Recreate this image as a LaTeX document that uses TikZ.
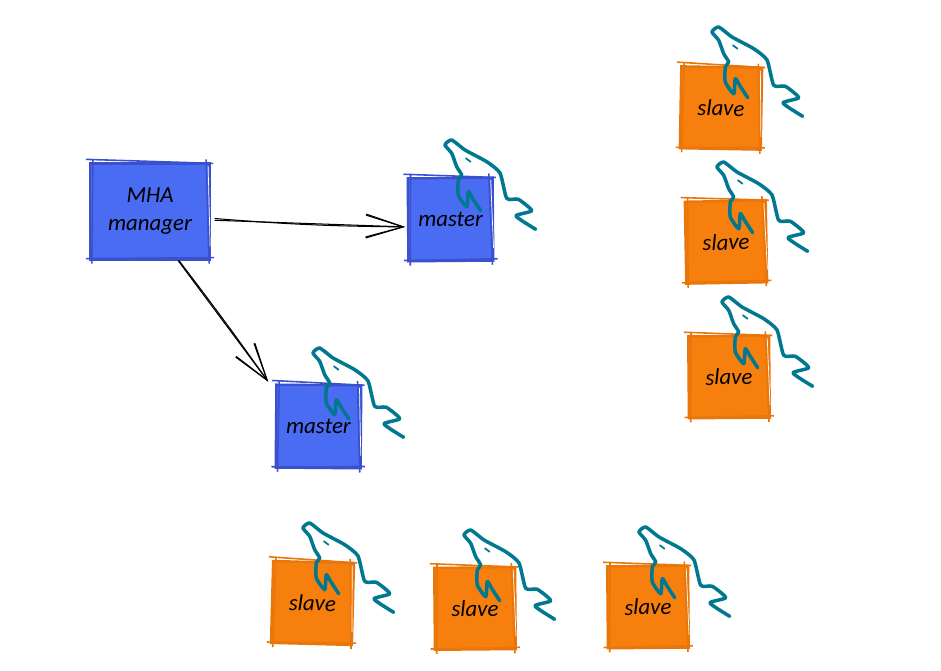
\documentclass[tikz,border=0pt]{standalone}
\usepackage{fontspec}
\setmainfont{Carlito}
\usetikzlibrary{arrows.meta}
\usetikzlibrary{calc}

\definecolor{bluefill}{HTML}{4A6CF2}
\definecolor{blueline}{HTML}{3B50CC}
\definecolor{orangefill}{HTML}{F77F0E}
\definecolor{orangeline}{HTML}{E8760A}
\definecolor{dolphincol}{HTML}{00788F}

\begin{document}
\begin{tikzpicture}[x=0.02cm, y=-0.02cm,
    main/.style = {draw, line width=1.3pt, inner sep=0pt, align=center, font=\fontsize{13}{16}\selectfont\itshape},
    manager/.style = {main, fill=bluefill, draw=blueline, minimum width=2.4cm, minimum height=1.92cm},
    master/.style = {main, fill=bluefill, draw=blueline, minimum width=1.7cm, minimum height=1.66cm},
    slave/.style = {main, fill=orangefill, draw=orangeline, minimum width=1.62cm, minimum height=1.64cm},
    flow/.style = {draw=black, line width=0.6pt, -{Straight Barb[length=7.5mm, width=5mm, angle'=34]}},
    pics/dolphin/.style = {code={
        \draw [dolphincol, line width=2pt, line cap=round, line join=round]
            plot [smooth, tension=0.35] coordinates {(90.7,84.3) (71,71) (86.7,65.7) (73.3,54.3) (61.7,53.3) (55,28) (41.7,16.7)
            (20,5) (6.7,-5) (0,0) (6.7,8.3) (11.7,21.7) (16.7,30) (13.3,35) (13.3,50)
            (21.7,61.7) (23.3,46.7) (28,54) (35.7,65.7)};
        \draw [dolphincol, line width=1pt, line cap=round] (21,13.3) -- (25.5,16.7);
    }}]
    \useasboundingbox (0,0) rectangle (941,671);

    \node [manager] (manager) at (150,211.5) {MHA\\manager};
    \node [master, rotate=0.5] (master1) at (450.5,219.5) {master};
    \node [master, rotate=-0.5] (master2) at (318.5,426.5) {master};
    \node [slave, rotate=-1] (slave1) at (721,108) {slave};
    \node [slave, rotate=1] (slave2) at (726,242) {slave};
    \node [slave, rotate=0.5] (slave3) at (729,377) {slave};
    \node [slave, rotate=-1.5] (slave4) at (312.5,603) {slave};
    \node [slave, rotate=0.5] (slave5) at (475,608.5) {slave};
    \node [slave, rotate=0.5] (slave6) at (648,607) {slave};

    % second pencil stroke round each box
    \foreach \name/\col in {manager/blueline, master1/blueline, master2/blueline, slave1/orangeline, slave2/orangeline,
        slave3/orangeline, slave4/orangeline, slave5/orangeline, slave6/orangeline} {
        \draw [\col, line width=0.9pt]
            ($(\name.north west)+(-3,-3)$) -- ($(\name.north east)+(2,1)$)
            ($(\name.north east)+(-5,-3)$) -- ($(\name.south east)+(-2,3)$)
            ($(\name.south east)+(3,-3)$) -- ($(\name.south west)+(-3,-2)$)
            ($(\name.south west)+(3,3)$) -- ($(\name.north west)+(4,-3)$);
        \draw [white, line width=0.4pt] ($(\name.north east)+(-3,4)$) -- ($(\name.south east)+(-1,-14)$);
    }

    \pic at (445,145) {dolphin};
    \pic at (313,353) {dolphin};
    \pic at (712,32) {dolphin};
    \pic at (717,167) {dolphin};
    \pic at (722,302) {dolphin};
    \pic at (303,528) {dolphin};
    \pic at (464,535) {dolphin};
    \pic at (639,532) {dolphin};

    \draw [flow] ([xshift=2pt, yshift=-5pt]manager.east) to ([xshift=-1pt, yshift=-4pt]master1.west);
    \draw [flow] ([xshift=2pt, yshift=-4pt]manager.east) to [bend right=2] ([xshift=-1pt, yshift=-4pt]master1.west);
    \draw [flow] ([xshift=16pt]manager.south) to ([xshift=-4pt, yshift=1pt]master2.north west);
    \draw [flow] ([xshift=16.5pt]manager.south) to [bend left=1] ([xshift=-4pt, yshift=1pt]master2.north west);
\end{tikzpicture}
\end{document}
